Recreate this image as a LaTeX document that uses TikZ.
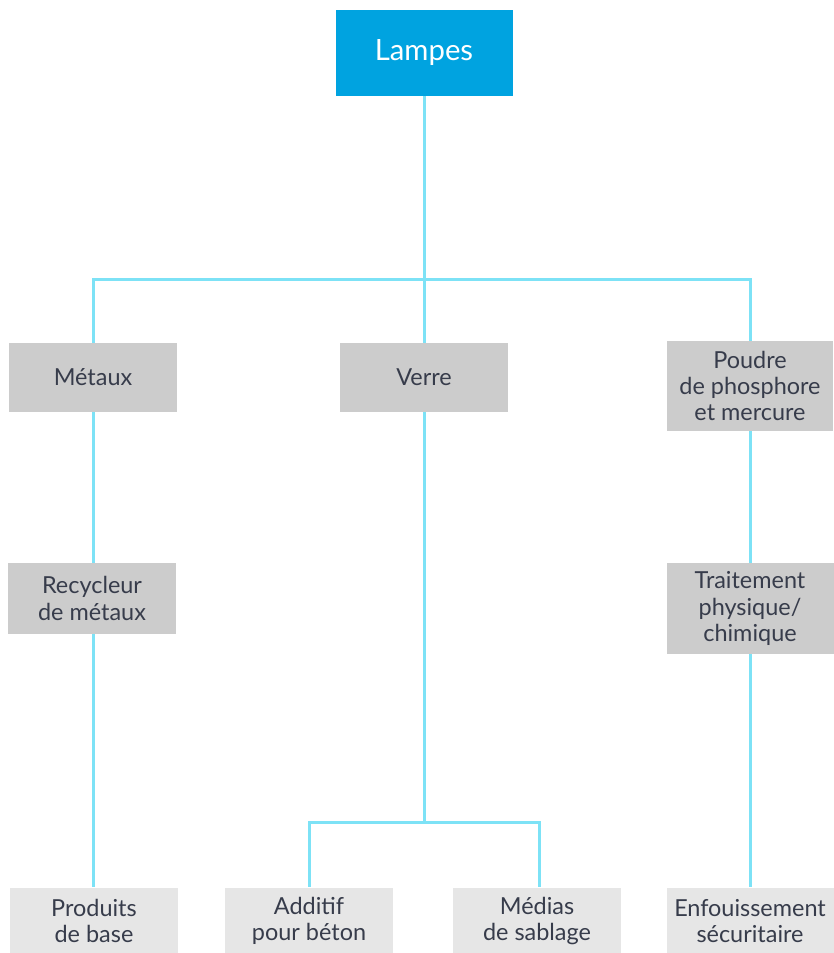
\documentclass[tikz,border=0pt]{standalone}
\usepackage{fontspec}
\setmainfont{Lato}
\definecolor{lampblue}{RGB}{0,163,224}
\definecolor{linkcyan}{RGB}{125,226,246}
\definecolor{boxgray}{RGB}{204,204,204}
\definecolor{endgray}{RGB}{230,230,230}
\definecolor{textgray}{RGB}{55,60,75}
\tikzset{
    box/.style={fill=boxgray, text=textgray, align=center, inner sep=0pt,
        minimum width=168*0.3mm, font=\fontsize{20}{22.5}\selectfont},
    endbox/.style={box, fill=endgray, minimum height=67*0.3mm},
    conn/.style={draw=linkcyan, line width=0.9mm},
}
\begin{document}
\begin{tikzpicture}[x=0.3mm, y=-0.3mm]
    \useasboundingbox (0,0) rectangle (834,953);
    % top
    \node[fill=lampblue, text=white, minimum width=177*0.3mm, minimum height=86*0.3mm,
        font=\fontsize{25}{28}\selectfont] (lampes) at (424,53) {Lampes};
    % middle row
    \node[box, minimum height=69*0.3mm] (metaux) at (93,377.5) {Métaux};
    \node[box, minimum height=69*0.3mm] (verre) at (424,377.5) {Verre};
    \node[box, minimum width=166*0.3mm, minimum height=90*0.3mm] (poudre) at (750,386) {Poudre\\de phosphore\\et mercure};
    \node[box, minimum height=71*0.3mm] (recycleur) at (92,598.5) {Recycleur\\de métaux};
    \node[box, minimum width=167*0.3mm, minimum height=91*0.3mm] (traitement) at (750,608.5) {Traitement\\physique/\\chimique};
    % bottom row
    \node[endbox] (produits) at (94,921) {Produits\\de base};
    \node[endbox] (additif) at (309,921) {Additif\\pour béton};
    \node[endbox] (medias) at (537,921) {Médias\\de sablage};
    \node[endbox, minimum width=167*0.3mm] (enfouissement) at (750,921) {Enfouissement\\sécuritaire};
    % connectors
    \coordinate (split) at (424,279);
    \coordinate (fork) at (424,822);
    \draw[conn] (lampes) -- (split);
    \draw[conn] (split) -| (metaux.north);
    \draw[conn] (split) -| (poudre.north);
    \draw[conn] (split) -- (verre);
    \draw[conn] (metaux) -- (recycleur.north -| metaux) (recycleur.south -| metaux) -- (produits.north -| metaux);
    \draw[conn] (poudre) -- (traitement) -- (enfouissement);
    \draw[conn] (verre) -- (fork);
    \draw[conn] (fork) -| (additif);
    \draw[conn] (fork) -| ([xshift=2*0.3mm]medias.north);
\end{tikzpicture}
\end{document}
